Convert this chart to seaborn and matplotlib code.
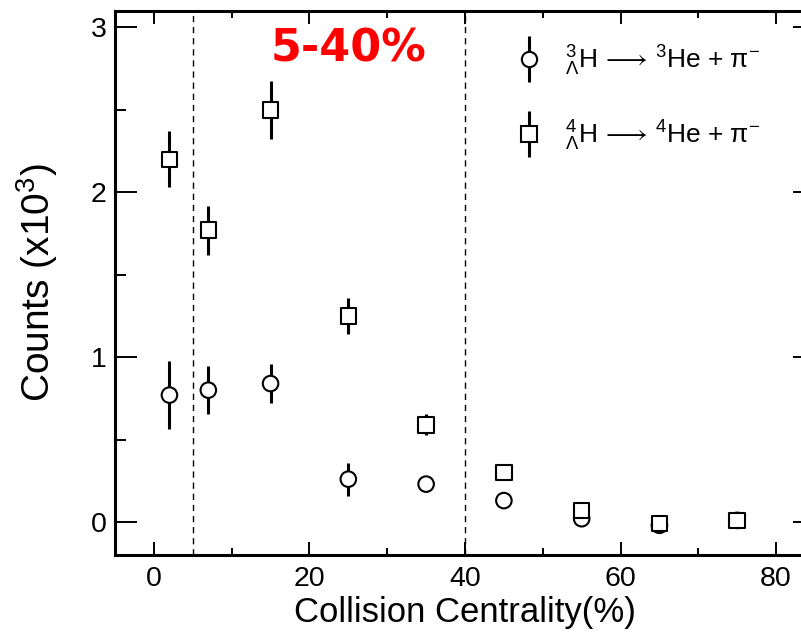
import matplotlib
matplotlib.use("Agg")
import matplotlib.pyplot as plt
from matplotlib.lines import Line2D
from matplotlib.legend_handler import HandlerTuple
from matplotlib.ticker import MultipleLocator
import numpy as np
import pandas as pd
import seaborn as sns

# Centrality bins (%) and yields (x10^3) with statistical errors
centrality = [2, 7, 15, 25, 35, 45, 55, 65, 75]
h3_counts = [0.77, 0.80, 0.84, 0.26, 0.23, 0.13, 0.02, -0.02, 0.01]
h3_err = [0.205, 0.145, 0.12, 0.10, 0.05, 0.02, 0.02, 0.02, 0.02]
h4_counts = [2.20, 1.77, 2.50, 1.25, 0.59, 0.30, 0.07, -0.01, 0.01]
h4_err = [0.17, 0.15, 0.175, 0.11, 0.065, 0.02, 0.02, 0.02, 0.02]

species_labels = [
    r"$^{3}_{\Lambda}\mathrm{H}\,\longrightarrow\,{}^{3}\mathrm{He}$ + π$^{-}$",
    r"$^{4}_{\Lambda}\mathrm{H}\,\longrightarrow\,{}^{4}\mathrm{He}$ + π$^{-}$",
]
window_edges = [5, 40]
window_text = "5-40%"

df = pd.concat([
    pd.DataFrame({"centrality": centrality, "counts": h3_counts,
                  "err": h3_err, "species": species_labels[0]}),
    pd.DataFrame({"centrality": centrality, "counts": h4_counts,
                  "err": h4_err, "species": species_labels[1]}),
], ignore_index=True)

sns.set_theme(style="ticks")
plt.rcParams["font.family"] = ["Liberation Sans", "DejaVu Sans"]
plt.rcParams["mathtext.fontset"] = "custom"
plt.rcParams["mathtext.rm"] = "Liberation Sans"
plt.rcParams["mathtext.it"] = "Liberation Sans:italic"
plt.rcParams["mathtext.bf"] = "Liberation Sans:bold"
plt.rcParams["text.color"] = "black"
plt.rcParams["axes.labelcolor"] = "black"
plt.rcParams["xtick.color"] = "black"
plt.rcParams["ytick.color"] = "black"

fig = plt.figure(figsize=(8.01, 6.35), dpi=100)
ax = fig.add_axes([115 / 801, 80 / 635, 700 / 801, 544 / 635])

# error bars first, markers (white-filled) on top
for sp in species_labels:
    sub = df[df["species"] == sp]
    ax.errorbar(sub["centrality"], sub["counts"], yerr=sub["err"],
                fmt="none", ecolor="black", elinewidth=2.2, capsize=0,
                zorder=2)

markers = {species_labels[0]: "o", species_labels[1]: "s"}
sns.scatterplot(data=df, x="centrality", y="counts", style="species",
                markers=markers, s=125, facecolor="white",
                edgecolor="black", linewidth=1.5, legend=False,
                zorder=3, ax=ax)

for xe in window_edges:
    ax.axvline(xe, color="black", lw=1.0, linestyle=(0, (4.5, 3.5)),
               zorder=1)

ax.text(25.0, 2.87, window_text, color="#ff0000", fontsize=32,
        fontweight="bold", family="DejaVu Sans", ha="center", va="center")

ax.set_xlim(-5, 85)
ax.set_ylim(-0.2, 3.1)
ax.xaxis.set_major_locator(MultipleLocator(20))
ax.xaxis.set_minor_locator(MultipleLocator(10))
ax.yaxis.set_major_locator(MultipleLocator(1))
ax.yaxis.set_minor_locator(MultipleLocator(0.5))

ax.tick_params(axis="both", which="both", direction="in", top=True,
               right=True, colors="black", width=1.4)
ax.tick_params(axis="x", which="major", length=9.5, pad=8, labelsize=20.5)
ax.tick_params(axis="x", which="minor", length=5)
ax.tick_params(axis="y", which="major", length=16, pad=6, labelsize=20.5)
ax.tick_params(axis="y", which="minor", length=8)
for sp in ax.spines.values():
    sp.set_linewidth(2.2)
    sp.set_color("black")

ax.set_xlabel("Collision Centrality(%)", fontsize=25, labelpad=3)
ax.set_ylabel(r"Counts (x10$^{3}$)", fontsize=28, labelpad=22)

handles = []
for sp in species_labels:
    bar = Line2D([], [], marker="|", markersize=33, markeredgewidth=2.2,
                 color="black", linestyle="none")
    mk = Line2D([], [], marker=markers[sp], markersize=11,
                markerfacecolor="white", markeredgecolor="black",
                markeredgewidth=1.5, linestyle="none")
    handles.append((bar, mk))

ax.legend(handles, species_labels,
          handler_map={tuple: HandlerTuple(ndivide=1, pad=0)},
          loc="upper left", bbox_to_anchor=(0.545, 0.96), frameon=False,
          fontsize=19, handlelength=1.7, handletextpad=0.5,
          labelspacing=1.55, borderaxespad=0)

fig.savefig("out.png", dpi=100)
